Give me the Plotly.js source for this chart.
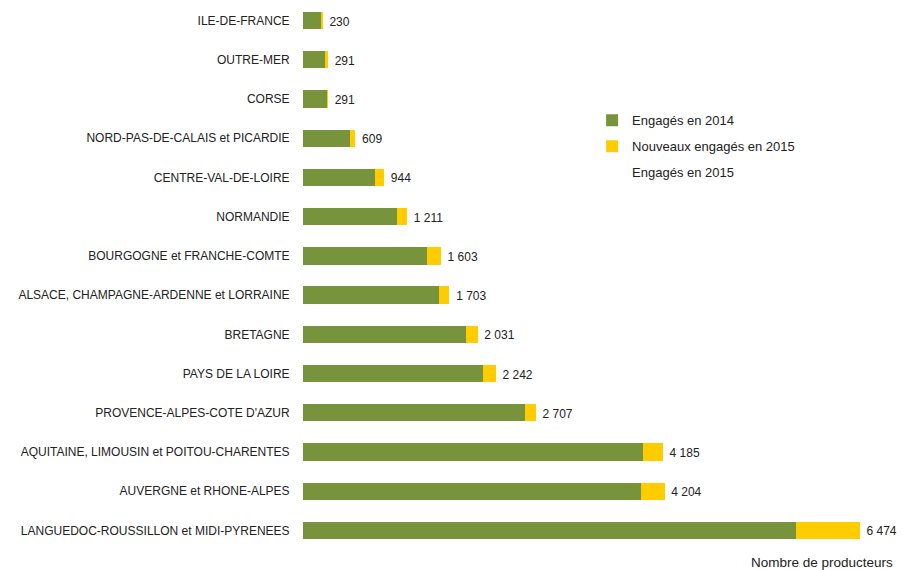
<!DOCTYPE html>
<html>
<head>
<meta charset="utf-8">
<script src="https://cdn.plot.ly/plotly-3.0.1.min.js"></script>
<style>html,body{margin:0;padding:0;background:#fff;}#chart{width:903px;height:570px;}</style>
</head>
<body>
<div id="chart"></div>
<script>
const regions = [
  "ILE-DE-FRANCE",
  "OUTRE-MER",
  "CORSE",
  "NORD-PAS-DE-CALAIS et PICARDIE",
  "CENTRE-VAL-DE-LOIRE",
  "NORMANDIE",
  "BOURGOGNE et FRANCHE-COMTE",
  "ALSACE, CHAMPAGNE-ARDENNE et LORRAINE",
  "BRETAGNE",
  "PAYS DE LA LOIRE",
  "PROVENCE-ALPES-COTE D'AZUR",
  "AQUITAINE, LIMOUSIN et POITOU-CHARENTES",
  "AUVERGNE et RHONE-ALPES",
  "LANGUEDOC-ROUSSILLON et MIDI-PYRENEES"
];
const engages2014 = [206, 256, 283, 546, 841, 1093, 1442, 1581, 1895, 2093, 2581, 3953, 3930, 5733];
const engages2015 = [230, 291, 291, 609, 944, 1211, 1603, 1703, 2031, 2242, 2707, 4185, 4204, 6474];
const nouveaux2015 = engages2015.map((t, i) => t - engages2014[i]);

const fmt = v => String(v).replace(/\B(?=(\d{3})+(?!\d))/g, " ");
const FONT = "Liberation Sans, Arial, sans-serif";

const traces = [
  {
    type: "bar", orientation: "h", name: "Engagés en 2014",
    y: regions, x: engages2014,
    marker: {color: "#77933C"}, legendgroup: "a",
    hoverinfo: "x+y"
  },
  {
    type: "bar", orientation: "h", name: "Nouveaux engagés en 2015",
    y: regions, x: nouveaux2015,
    marker: {color: "#FFCC00"}, legendgroup: "b",
    hoverinfo: "x+y"
  },
  {
    type: "scatter", mode: "text", name: "Engagés en 2015",
    y: regions, x: engages2015, yaxis: "y2",
    text: engages2015.map(v => "  " + fmt(v)),
    textposition: "middle right",
    textfont: {family: FONT, size: 12, color: "#222"},
    showlegend: false, cliponaxis: false, hoverinfo: "skip"
  },
  {
    type: "scatter", mode: "lines", name: "Engagés en 2015",
    x: [null], y: [null], line: {width: 0, color: "rgba(0,0,0,0)"},
    legendgroup: "c", showlegend: true
  }
];

const layout = {
  width: 903, height: 570,
  margin: {l: 303, r: 10, t: 1, b: 20},
  paper_bgcolor: "#fff", plot_bgcolor: "#fff",
  font: {family: FONT, size: 12, color: "#222"},
  barmode: "stack", bargap: 0.56,
  showlegend: true,
  legend: {
    x: 0.49, y: 0.810, xanchor: "left", yanchor: "top",
    traceorder: "grouped", tracegroupgap: 6,
    font: {family: FONT, size: 13, color: "#222"},
    bgcolor: "rgba(0,0,0,0)", itemwidth: 30
  },
  xaxis: {
    range: [0, 6860], showgrid: false, zeroline: false,
    showticklabels: false, ticks: "", showline: false, fixedrange: true
  },
  yaxis: {
    type: "category", categoryarray: regions, categoryorder: "array",
    range: [13.5, -0.5], autorange: false, showgrid: false, zeroline: false,
    showline: false, ticks: "outside", ticklen: 10, tickcolor: "rgba(0,0,0,0)",
    tickfont: {family: FONT, size: 12, color: "#222"}, fixedrange: true
  },
  yaxis2: {
    type: "category", categoryarray: regions, categoryorder: "array",
    overlaying: "y", range: [13.45, -0.55], autorange: false,
    showgrid: false, zeroline: false, showline: false,
    showticklabels: false, ticks: "", fixedrange: true
  },
  annotations: [{
    text: "Nombre de producteurs", xref: "paper", yref: "paper",
    x: 1.004, y: -0.022, xanchor: "right", yanchor: "middle", showarrow: false,
    font: {family: FONT, size: 13.5, color: "#222"}
  }]
};

Plotly.newPlot("chart", traces, layout, {displayModeBar: false, staticPlot: true});
</script>
</body>
</html>
